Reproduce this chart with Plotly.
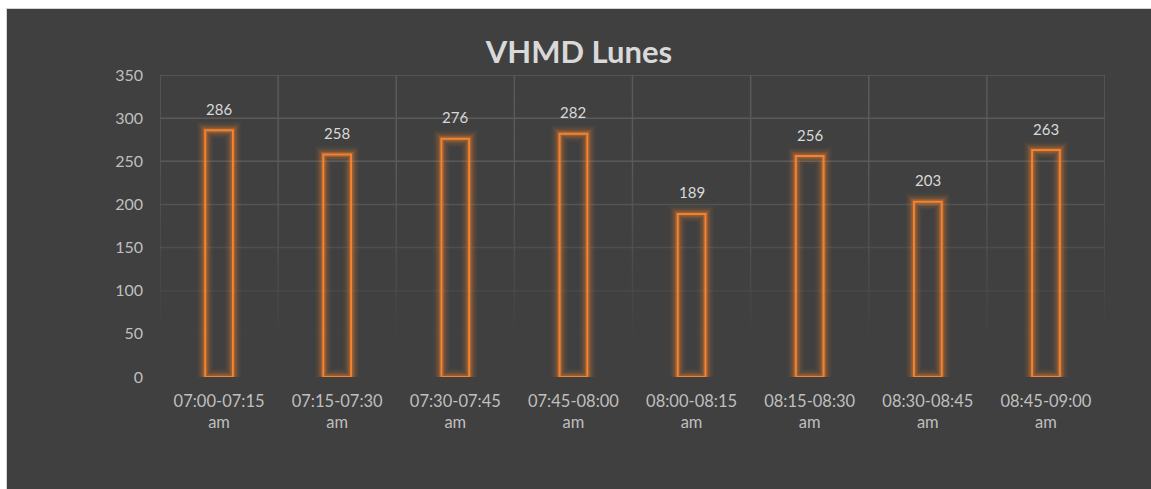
import plotly.graph_objects as go

# Vehicle counts per 15-minute interval (Monday morning peak)
intervals = ["07:00-07:15 am", "07:15-07:30 am", "07:30-07:45 am", "07:45-08:00 am",
             "08:00-08:15 am", "08:15-08:30 am", "08:30-08:45 am", "08:45-09:00 am"]
tick_labels = ["07:00-07:15<br>am", "07:15-07:30<br>am", "07:30-07:45<br>am", "07:45-08:00<br>am",
               "08:00-08:15<br>am", "08:15-08:30<br>am", "08:30-08:45<br>am", "08:45-09:00<br>am"]
vehicles = [286, 258, 276, 282, 189, 256, 203, 263]
y_ticks = [0, 50, 100, 150, 200, 250, 300, 350]

BG = "#404040"
ORANGE = "#F5822F"
GRID = "#5a5a5a"
FONT = "Lato, 'Open Sans', sans-serif"

W, H = 1151, 489
L, R, T, B = 160, 46, 75, 112
plot_w, plot_h = W - L - R, H - T - B

fig = go.Figure()

# Soft glow: stacked translucent outlines of growing width
for lw, alpha in [(16, 0.06), (12, 0.09), (8.5, 0.15), (5, 0.28)]:
    fig.add_trace(go.Bar(
        x=intervals, y=vehicles, width=0.235,
        marker=dict(color="rgba(0,0,0,0)",
                    line=dict(color=f"rgba(245,130,47,{alpha})", width=lw)),
        hoverinfo="skip", showlegend=False,
    ))

# Main hollow bars
fig.add_trace(go.Bar(
    x=intervals, y=vehicles, width=0.235,
    marker=dict(color="rgba(0,0,0,0)", line=dict(color=ORANGE, width=2)),
    showlegend=False,
))

# Value labels above each bar
for cat, v in zip(intervals, vehicles):
    fig.add_annotation(x=cat, y=v, text=str(v), showarrow=False,
                       yanchor="middle", yshift=21.5,
                       font=dict(family=FONT, size=15, color="#d9d9d9"))


def grid_alpha(v):
    """Gridlines fade out towards the bottom of the plot."""
    a = (v - 40) / 210
    return max(0.0, min(1.0, a)) ** 0.9


shapes = []
# Horizontal gridlines
for v in y_ticks[1:]:
    a = grid_alpha(v)
    if a > 0:
        shapes.append(dict(type="line", xref="paper", yref="y", x0=0, x1=1, y0=v, y1=v,
                           line=dict(color=GRID, width=1.5), opacity=a, layer="below"))
# Vertical gridlines at category boundaries, drawn in fading segments
step = 10
for i in range(len(intervals) + 1):
    xb = i - 0.5
    v = 0
    while v < 350:
        a = grid_alpha(v + step / 2)
        if a > 0:
            shapes.append(dict(type="line", xref="x", yref="y", x0=xb, x1=xb, y0=v, y1=v + step,
                               line=dict(color=GRID, width=1.5), opacity=a, layer="below"))
        v += step

# White page edge at the top and left
px = lambda p: (p - L) / plot_w
py = lambda p: (H - B - p) / plot_h
shapes.append(dict(type="rect", xref="paper", yref="paper", x0=px(-5), x1=px(6), y0=py(-5), y1=py(H + 5),
                   fillcolor="white", line=dict(width=0), layer="above"))
shapes.append(dict(type="rect", xref="paper", yref="paper", x0=px(-5), x1=px(W + 5), y0=py(8), y1=py(-5),
                   fillcolor="white", line=dict(width=0), layer="above"))
shapes.append(dict(type="line", xref="paper", yref="paper", x0=px(6.5), x1=px(6.5), y0=py(8), y1=py(H + 5),
                   line=dict(color="#d4d4d4", width=1), layer="above"))
shapes.append(dict(type="line", xref="paper", yref="paper", x0=px(6), x1=px(W + 5), y0=py(8.5), y1=py(8.5),
                   line=dict(color="#d4d4d4", width=1), layer="above"))

fig.update_layout(
    width=W, height=H,
    margin=dict(l=L, r=R, t=T, b=B, pad=0),
    paper_bgcolor=BG, plot_bgcolor=BG,
    barmode="overlay",
    shapes=shapes,
    title=dict(text="<b>VHMD Lunes</b>", xref="container", yref="container",
               x=579 / W, y=1 - 52 / H, xanchor="center", yanchor="middle",
               font=dict(family=FONT, size=31, color="#d9d9d9")),
    xaxis=dict(type="category", range=[-0.5, len(intervals) - 0.5],
               tickmode="array", tickvals=intervals, ticktext=tick_labels,
               showgrid=False, zeroline=False, showline=False, ticks="",
               ticklabelstandoff=12,
               tickfont=dict(family=FONT, size=16.5, color="#bfbfbf")),
    yaxis=dict(range=[0, 350], tickmode="array", tickvals=y_ticks,
               showgrid=False, zeroline=False, showline=False, ticks="",
               ticklabelstandoff=16,
               tickfont=dict(family=FONT, size=16, color="#bfbfbf")),
    font=dict(family=FONT),
)

fig.write_html("out.html")
